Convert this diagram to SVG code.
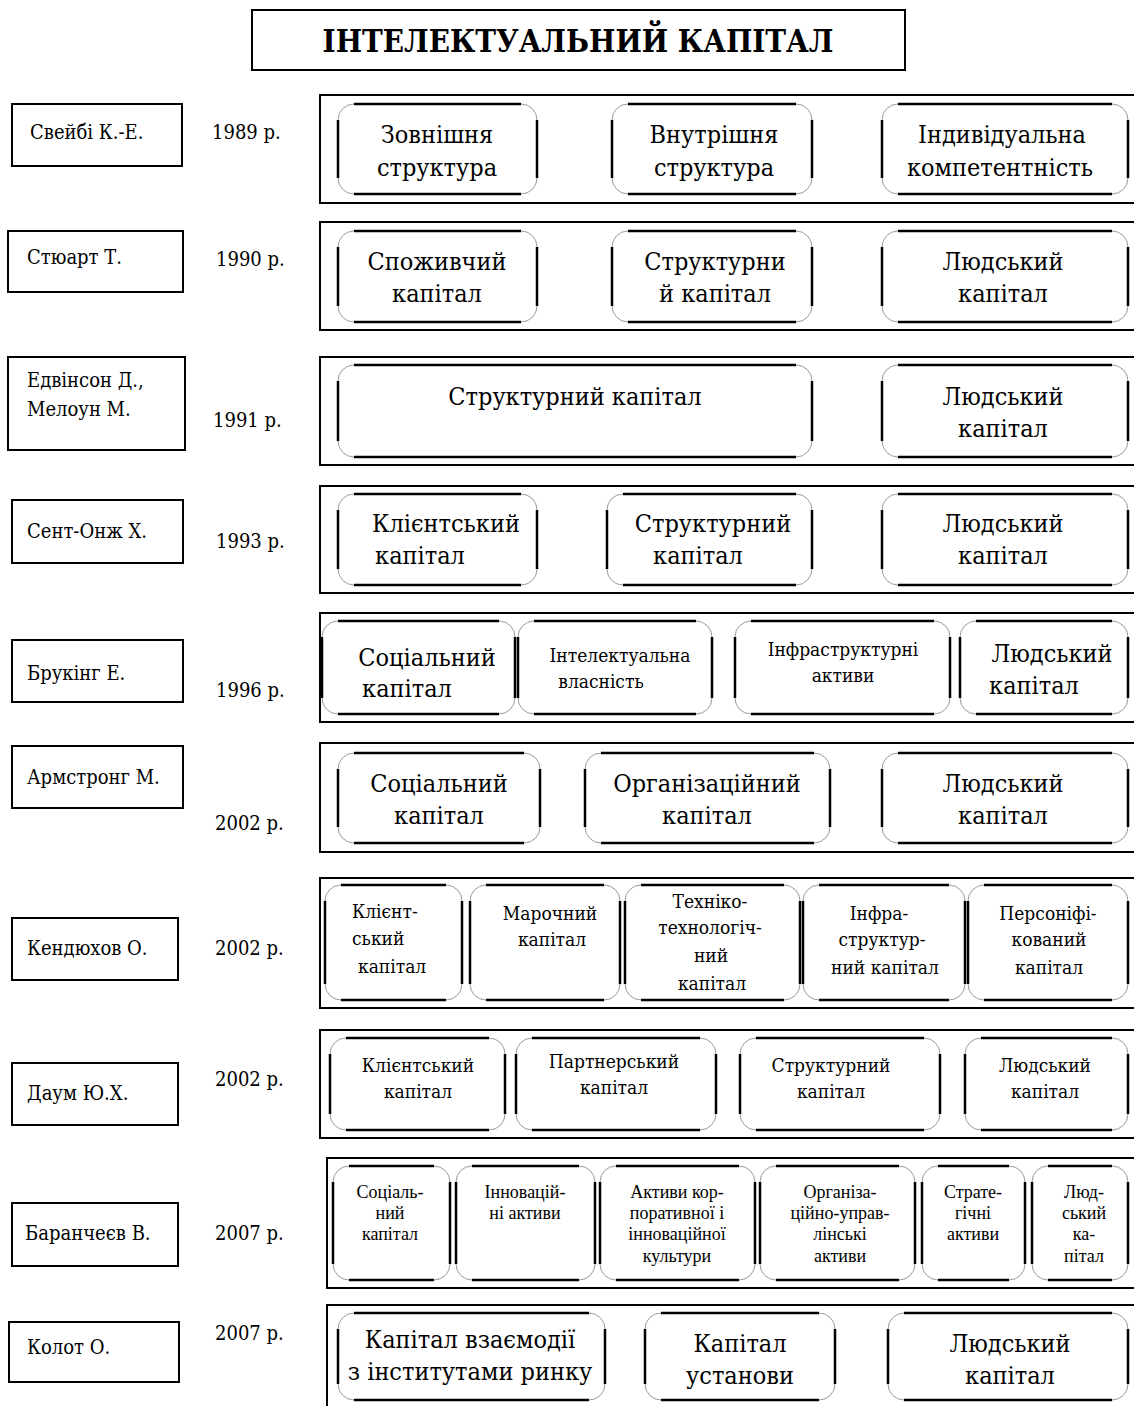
<svg xmlns="http://www.w3.org/2000/svg" width="1134" height="1406" viewBox="0 0 1134 1406">
<style>
.ob{fill:none;stroke:#000;stroke-width:2}
.nb{fill:#fff;stroke:#000;stroke-width:2}
.rb{fill:#fff;stroke:#9a9a9a;stroke-width:1}
.rs{fill:none;stroke:#000;stroke-width:2.5}
text{font-family:"DejaVu Serif Condensed","DejaVu Serif",serif;font-stretch:condensed;fill:#000}
.ti{font-size:31px;font-weight:bold;text-anchor:middle}
.nm{font-size:20px}
.yr{font-size:20px}
.c{text-anchor:middle}
.b{font-size:25px}
.m{font-size:19px}
.s{font-size:18px;font-family:"Liberation Serif",serif;font-stretch:normal}
</style>
<rect width="1134" height="1406" fill="#fff"/>
<g id="title"><rect class="nb" x="252" y="10" width="653" height="60"/><text class="ti" x="578" y="52">ІНТЕЛЕКТУАЛЬНИЙ КАПІТАЛ</text></g>

<g id="connectors"></g>

<g id="row1">
<rect class="nb" x="12" y="104" width="170" height="62"/><text class="nm" x="30" y="139">Свейбі К.-Е.</text>
<text class="yr" x="212" y="139">1989 р.</text>
<rect class="ob" x="320" y="95" width="820" height="108"/>
<g id="r1b1"><rect class="rb" x="338" y="104" width="199" height="90" rx="16"/><path class="rs" d="M354,104H521M537,120V178M521,194H354M338,178V120"/><text class="b c" x="437" y="143">Зовнішня</text><text class="b c" x="437" y="176">структура</text></g>
<g id="r1b2"><rect class="rb" x="612" y="104" width="200" height="90" rx="16"/><path class="rs" d="M628,104H796M812,120V178M796,194H628M612,178V120"/><text class="b c" x="714" y="143">Внутрішня</text><text class="b c" x="714" y="176">структура</text></g>
<g id="r1b3"><rect class="rb" x="882" y="104" width="246" height="90" rx="16"/><path class="rs" d="M898,104H1112M1128,120V178M1112,194H898M882,178V120"/><text class="b c" x="1002" y="143">Індивідуальна</text><text class="b c" x="1000" y="176">компетентність</text></g>
</g>

<g id="row2">
<rect class="nb" x="8" y="231" width="175" height="61"/><text class="nm" x="27" y="264">Стюарт Т.</text>
<text class="yr" x="216" y="266">1990 р.</text>
<rect class="ob" x="320" y="222" width="820" height="108"/>
<g id="r2b1"><rect class="rb" x="338" y="231" width="199" height="91" rx="16"/><path class="rs" d="M354,231H521M537,247V306M521,322H354M338,306V247"/><text class="b c" x="437" y="270">Споживчий</text><text class="b c" x="437" y="302">капітал</text></g>
<g id="r2b2"><rect class="rb" x="612" y="231" width="200" height="91" rx="16"/><path class="rs" d="M628,231H796M812,247V306M796,322H628M612,306V247"/><text class="b c" x="715" y="270">Структурни</text><text class="b c" x="715" y="302">й капітал</text></g>
<g id="r2b3"><rect class="rb" x="882" y="231" width="246" height="91" rx="16"/><path class="rs" d="M898,231H1112M1128,247V306M1112,322H898M882,306V247"/><text class="b c" x="1003" y="270">Людський</text><text class="b c" x="1003" y="302">капітал</text></g>
</g>

<g id="row3">
<rect class="nb" x="8" y="357" width="177" height="93"/><text class="nm" x="27" y="387">Едвінсон Д.,</text><text class="nm" x="27" y="416">Мелоун М.</text>
<text class="yr" x="213" y="427">1991 р.</text>
<rect class="ob" x="320" y="357" width="820" height="108"/>
<g id="r3b1"><rect class="rb" x="338" y="365" width="474" height="92" rx="16"/><path class="rs" d="M354,365H796M812,381V441M796,457H354M338,441V381"/><text class="b c" x="575" y="405">Структурний капітал</text></g>
<g id="r3b2"><rect class="rb" x="882" y="365" width="246" height="92" rx="16"/><path class="rs" d="M898,365H1112M1128,381V441M1112,457H898M882,441V381"/><text class="b c" x="1003" y="405">Людський</text><text class="b c" x="1003" y="437">капітал</text></g>
</g>

<g id="row4">
<rect class="nb" x="12" y="500" width="171" height="63"/><text class="nm" x="27" y="538">Сент-Онж Х.</text>
<text class="yr" x="216" y="548">1993 р.</text>
<rect class="ob" x="320" y="486" width="820" height="107"/>
<g id="r4b1"><rect class="rb" x="338" y="494" width="199" height="91" rx="16"/><path class="rs" d="M354,494H521M537,510V569M521,585H354M338,569V510"/><text class="b c" x="446" y="532">Клієнтський</text><text class="b c" x="420" y="564">капітал</text></g>
<g id="r4b2"><rect class="rb" x="607" y="494" width="205" height="91" rx="16"/><path class="rs" d="M623,494H796M812,510V569M796,585H623M607,569V510"/><text class="b c" x="713" y="532">Структурний</text><text class="b c" x="698" y="564">капітал</text></g>
<g id="r4b3"><rect class="rb" x="882" y="494" width="246" height="91" rx="16"/><path class="rs" d="M898,494H1112M1128,510V569M1112,585H898M882,569V510"/><text class="b c" x="1003" y="532">Людський</text><text class="b c" x="1003" y="564">капітал</text></g>
</g>

<g id="row5">
<rect class="nb" x="12" y="640" width="171" height="62"/><text class="nm" x="27" y="680">Брукінг Е.</text>
<text class="yr" x="216" y="697">1996 р.</text>
<rect class="ob" x="320" y="613" width="820" height="109"/>
<g id="r5b1"><rect class="rb" x="322" y="621" width="193" height="93" rx="16"/><path class="rs" d="M338,621H499M515,637V698M499,714H338M322,698V637"/><text class="b c" x="427" y="666">Соціальний</text><text class="b c" x="407" y="697">капітал</text></g>
<g id="r5b2"><rect class="rb" x="518" y="621" width="194" height="93" rx="16"/><path class="rs" d="M534,621H696M712,637V698M696,714H534M518,698V637"/><text class="m c" x="620" y="662">Інтелектуальна</text><text class="m c" x="601" y="688">власність</text></g>
<g id="r5b3"><rect class="rb" x="735" y="621" width="215" height="93" rx="16"/><path class="rs" d="M751,621H934M950,637V698M934,714H751M735,698V637"/><text class="m c" x="843" y="656">Інфраструктурні</text><text class="m c" x="843" y="682">активи</text></g>
<g id="r5b4"><rect class="rb" x="960" y="621" width="168" height="93" rx="16"/><path class="rs" d="M976,621H1112M1128,637V698M1112,714H976M960,698V637"/><text class="b c" x="1052" y="662">Людський</text><text class="b c" x="1034" y="694">капітал</text></g>
</g>

<g id="row6">
<rect class="nb" x="12" y="746" width="171" height="62"/><text class="nm" x="27" y="784">Армстронг М.</text>
<text class="yr" x="215" y="830">2002 р.</text>
<rect class="ob" x="320" y="743" width="820" height="109"/>
<g id="r6b1"><rect class="rb" x="338" y="753" width="202" height="90" rx="16"/><path class="rs" d="M354,753H524M540,769V827M524,843H354M338,827V769"/><text class="b c" x="439" y="792">Соціальний</text><text class="b c" x="439" y="824">капітал</text></g>
<g id="r6b2"><rect class="rb" x="585" y="753" width="245" height="90" rx="16"/><path class="rs" d="M601,753H814M830,769V827M814,843H601M585,827V769"/><text class="b c" x="707" y="792">Організаційний</text><text class="b c" x="707" y="824">капітал</text></g>
<g id="r6b3"><rect class="rb" x="882" y="753" width="246" height="90" rx="16"/><path class="rs" d="M898,753H1112M1128,769V827M1112,843H898M882,827V769"/><text class="b c" x="1003" y="792">Людський</text><text class="b c" x="1003" y="824">капітал</text></g>
</g>

<g id="row7">
<rect class="nb" x="12" y="918" width="166" height="62"/><text class="nm" x="27" y="955">Кендюхов О.</text>
<text class="yr" x="215" y="955">2002 р.</text>
<rect class="ob" x="320" y="878" width="820" height="130"/>
<g id="r7b1"><rect class="rb" x="325" y="885" width="137" height="115" rx="16"/><path class="rs" d="M341,885H446M462,901V984M446,1000H341M325,984V901"/><text class="m" x="352" y="918">Клієнт-</text><text class="m" x="352" y="945">ський</text><text class="m" x="358" y="973">капітал</text></g>
<g id="r7b2"><rect class="rb" x="470" y="885" width="150" height="115" rx="16"/><path class="rs" d="M486,885H604M620,901V984M604,1000H486M470,984V901"/><text class="m c" x="550" y="920">Марочний</text><text class="m c" x="552" y="946">капітал</text></g>
<g id="r7b3"><rect class="rb" x="625" y="885" width="175" height="115" rx="16"/><path class="rs" d="M641,885H784M800,901V984M784,1000H641M625,984V901"/><text class="m c" x="710" y="908">Техніко-</text><text class="m c" x="710" y="934">технологіч-</text><text class="m c" x="711" y="962">ний</text><text class="m c" x="712" y="990">капітал</text></g>
<g id="r7b4"><rect class="rb" x="803" y="885" width="162" height="115" rx="16"/><path class="rs" d="M819,885H949M965,901V984M949,1000H819M803,984V901"/><text class="m c" x="879" y="920">Інфра-</text><text class="m c" x="882" y="946">структур-</text><text class="m c" x="885" y="974">ний капітал</text></g>
<g id="r7b5"><rect class="rb" x="968" y="885" width="160" height="115" rx="16"/><path class="rs" d="M984,885H1112M1128,901V984M1112,1000H984M968,984V901"/><text class="m c" x="1048" y="920">Персоніфі-</text><text class="m c" x="1049" y="946">кований</text><text class="m c" x="1049" y="974">капітал</text></g>
</g>

<g id="row8">
<rect class="nb" x="12" y="1063" width="166" height="62"/><text class="nm" x="27" y="1100">Даум Ю.Х.</text>
<text class="yr" x="215" y="1086">2002 р.</text>
<rect class="ob" x="320" y="1030" width="820" height="108"/>
<g id="r8b1"><rect class="rb" x="330" y="1038" width="175" height="92" rx="16"/><path class="rs" d="M346,1038H489M505,1054V1114M489,1130H346M330,1114V1054"/><text class="m c" x="418" y="1072">Клієнтський</text><text class="m c" x="418" y="1098">капітал</text></g>
<g id="r8b2"><rect class="rb" x="516" y="1038" width="200" height="92" rx="16"/><path class="rs" d="M532,1038H700M716,1054V1114M700,1130H532M516,1114V1054"/><text class="m c" x="614" y="1068">Партнерський</text><text class="m c" x="614" y="1094">капітал</text></g>
<g id="r8b3"><rect class="rb" x="740" y="1038" width="200" height="92" rx="16"/><path class="rs" d="M756,1038H924M940,1054V1114M924,1130H756M740,1114V1054"/><text class="m c" x="831" y="1072">Структурний</text><text class="m c" x="831" y="1098">капітал</text></g>
<g id="r8b4"><rect class="rb" x="965" y="1038" width="163" height="92" rx="16"/><path class="rs" d="M981,1038H1112M1128,1054V1114M1112,1130H981M965,1114V1054"/><text class="m c" x="1045" y="1072">Людський</text><text class="m c" x="1045" y="1098">капітал</text></g>
</g>

<g id="row9">
<rect class="nb" x="12" y="1203" width="166" height="63"/><text class="nm" x="25" y="1240">Баранчеєв В.</text>
<text class="yr" x="215" y="1240">2007 р.</text>
<rect class="ob" x="327" y="1158" width="813" height="130"/>
<g id="r9b1"><rect class="rb" x="333" y="1166" width="117" height="114" rx="16"/><path class="rs" d="M349,1166H434M450,1182V1264M434,1280H349M333,1264V1182"/><text class="s c" x="390" y="1198">Соціаль-</text><text class="s c" x="390" y="1219">ний</text><text class="s c" x="390" y="1240">капітал</text></g>
<g id="r9b2"><rect class="rb" x="456" y="1166" width="139" height="114" rx="16"/><path class="rs" d="M472,1166H579M595,1182V1264M579,1280H472M456,1264V1182"/><text class="s c" x="525" y="1198">Інновацій-</text><text class="s c" x="525" y="1219">ні активи</text></g>
<g id="r9b3"><rect class="rb" x="600" y="1166" width="155" height="114" rx="16"/><path class="rs" d="M616,1166H739M755,1182V1264M739,1280H616M600,1264V1182"/><text class="s c" x="677" y="1198">Активи кор-</text><text class="s c" x="677" y="1219">поративної і</text><text class="s c" x="677" y="1240">інноваційної</text><text class="s c" x="677" y="1262">культури</text></g>
<g id="r9b4"><rect class="rb" x="760" y="1166" width="155" height="114" rx="16"/><path class="rs" d="M776,1166H899M915,1182V1264M899,1280H776M760,1264V1182"/><text class="s c" x="840" y="1198">Організа-</text><text class="s c" x="840" y="1219">ційно-управ-</text><text class="s c" x="840" y="1240">лінські</text><text class="s c" x="840" y="1262">активи</text></g>
<g id="r9b5"><rect class="rb" x="922" y="1166" width="103" height="114" rx="16"/><path class="rs" d="M938,1166H1009M1025,1182V1264M1009,1280H938M922,1264V1182"/><text class="s c" x="973" y="1198">Страте-</text><text class="s c" x="973" y="1219">гічні</text><text class="s c" x="973" y="1240">активи</text></g>
<g id="r9b6"><rect class="rb" x="1032" y="1166" width="96" height="114" rx="16"/><path class="rs" d="M1048,1166H1112M1128,1182V1264M1112,1280H1048M1032,1264V1182"/><text class="s c" x="1084" y="1198">Люд-</text><text class="s c" x="1084" y="1219">ський</text><text class="s c" x="1084" y="1240">ка-</text><text class="s c" x="1084" y="1262">пітал</text></g>
</g>

<g id="row10">
<rect class="nb" x="9" y="1322" width="170" height="60"/><text class="nm" x="27" y="1354">Колот О.</text>
<text class="yr" x="215" y="1340">2007 р.</text>
<rect class="ob" x="327" y="1305" width="813" height="120"/>
<g id="r10b1"><rect class="rb" x="338" y="1313" width="267" height="87" rx="16"/><path class="rs" d="M354,1313H589M605,1329V1384M589,1400H354M338,1384V1329"/><text class="b c" x="470" y="1348">Капітал взаємодії</text><text class="b c" x="470" y="1380">з інститутами ринку</text></g>
<g id="r10b2"><rect class="rb" x="645" y="1313" width="190" height="87" rx="16"/><path class="rs" d="M661,1313H819M835,1329V1384M819,1400H661M645,1384V1329"/><text class="b c" x="740" y="1352">Капітал</text><text class="b c" x="740" y="1384">установи</text></g>
<g id="r10b3"><rect class="rb" x="888" y="1313" width="240" height="87" rx="16"/><path class="rs" d="M904,1313H1112M1128,1329V1384M1112,1400H904M888,1384V1329"/><text class="b c" x="1010" y="1352">Людський</text><text class="b c" x="1010" y="1384">капітал</text></g>
</g>
</svg>
